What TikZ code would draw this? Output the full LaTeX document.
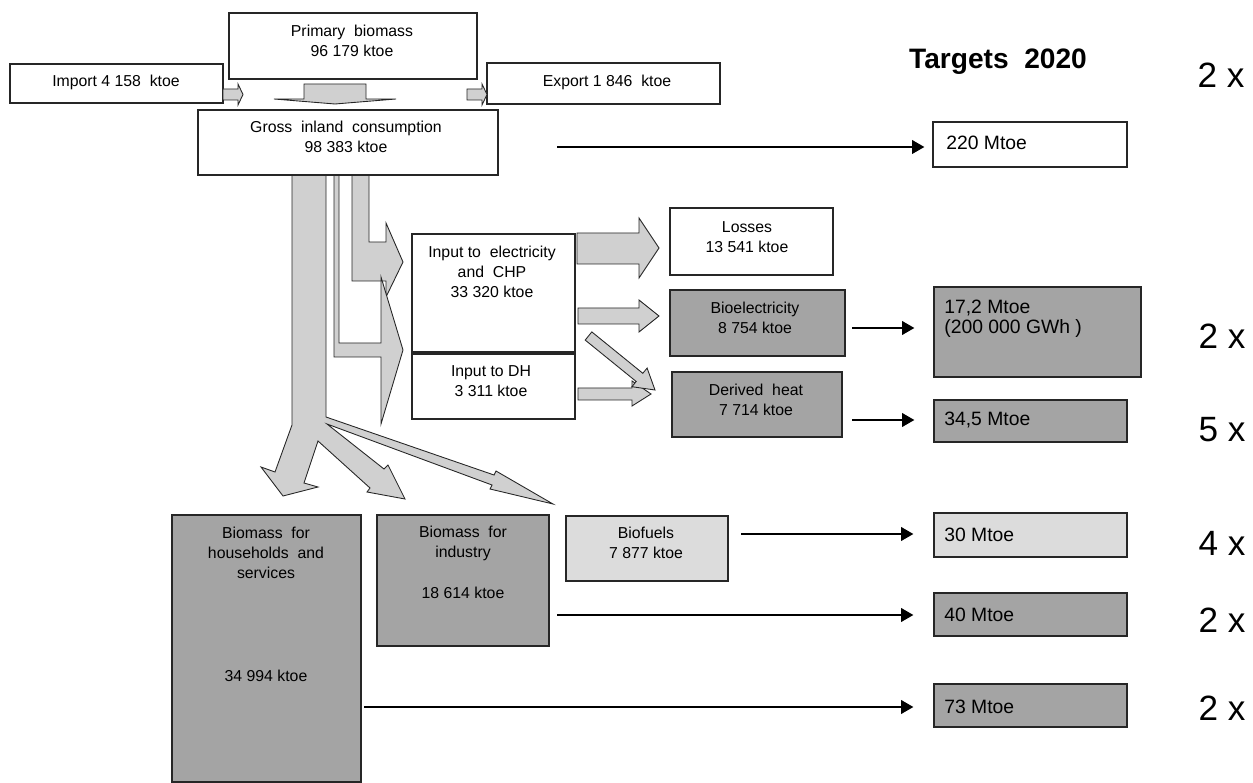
\documentclass[tikz,border=0pt]{standalone}
\usepackage{fontspec}
\setmainfont{Liberation Sans}
\usetikzlibrary{arrows.meta,fit}

\definecolor{flowgray}{HTML}{D0D0D0}
\definecolor{boxgray}{HTML}{A4A4A4}
\definecolor{fuelgray}{HTML}{DCDCDC}

\begin{document}
\begin{tikzpicture}[x=0.02cm,y=-0.02cm,
  box/.style={draw=black!85, line width=0.6pt, fill=white, inner sep=0pt},
  darkbox/.style={box, fill=boxgray},
  lightbox/.style={box, fill=fuelgray},
  flow/.style={draw=black!85, line width=0.5pt, fill=flowgray, line join=miter},
  txt/.style={font=\fontsize{9}{11.4}\selectfont, align=center, inner sep=0pt},
  goaltxt/.style={font=\fontsize{11}{11.4}\selectfont, align=left, anchor=west, inner sep=0pt},
  times/.style={font=\fontsize{20}{22}\selectfont, inner sep=0pt},
  goal/.style={line width=1.6pt, -{Triangle[length=7pt,width=7.5pt]}}]

  \useasboundingbox (0,0) rectangle (1253,783);

  % Flows out of gross inland consumption
  \draw[flow] (292,175) -- (326,175) -- (326,417) -- (494,475) -- (496,471) -- (553,504)
    -- (490,489) -- (492,485) -- (327,424) -- (384,469) -- (388,465) -- (405,499)
    -- (367,492) -- (370,488) -- (318,441) -- (304,483) -- (318,487) -- (283,496)
    -- (261,467) -- (275,472) -- (292,425) -- cycle;
  \draw[flow] (352,175) -- (369,175) -- (369,242) -- (386,242) -- (386,223) -- (403,262)
    -- (386,297) -- (386,281) -- (352,281) -- cycle;
  \draw[flow] (334,175) -- (339,175) -- (339,343) -- (381,343) -- (381,277) -- (403,350)
    -- (381,424) -- (381,357) -- (334,357) -- cycle;

  % Top row
  \node (imp) [box, fit={(10,64) (223,103)}] {};
  \node (prim) [box, fit={(229,13) (477,79)}] {};
  \node (exp) [box, fit={(487,63) (720,104)}] {};
  \node (gross) [box, fit={(198,110) (498,175)}] {};
  \node (imp-t) [txt] at (116,82) {Import 4 158 \ ktoe};
  \node (prim-t) [txt] at (352,41) {Primary \ biomass\\96 179 ktoe};
  \node (exp-t) [txt] at (607,82) {Export 1 846 \ ktoe};
  \node (gross-t) [txt] at (346,137) {Gross \ inland \ consumption\\98 383 ktoe};

  \draw[flow] (223,89) -- (238,89) -- (238,84) -- (243,94.5) -- (238,105) -- (238,100) -- (223,100) -- cycle;
  \draw[flow] (467,89) -- (482,89) -- (482,84) -- (487,94.5) -- (482,105) -- (482,100) -- (467,100) -- cycle;
  \draw[flow] (304,84) -- (366,84) -- (366,99) -- (396,99) -- (335,104) -- (274,99) -- (304,99) -- cycle;

  % Conversion
  \node (inel) [box, fit={(412,234) (575,352)}] {};
  \node (indh) [box, fit={(412,354) (575,419)}] {};
  \node (inel-t) [txt] at (492,271.5) {Input to \ electricity\\and \ CHP\\33 320 ktoe};
  \node (indh-t) [txt] at (491,381) {Input to DH\\3 311 ktoe};

  \node (loss) [box, fit={(670,208) (833,275)}] {};
  \node (bioel) [darkbox, fit={(670,290) (845,356)}] {};
  \node (heat) [darkbox, fit={(672,372) (842,437)}] {};
  \node (loss-t) [txt] at (747,237) {Losses\\13 541 ktoe};
  \node (bioel-t) [txt] at (755,318) {Bioelectricity\\8 754 ktoe};
  \node (heat-t) [txt] at (756,399.5) {Derived \ heat\\7 714 ktoe};

  \draw[flow] (577,233) -- (639,233) -- (639,218) -- (659,248) -- (639,278) -- (639,264) -- (577,264) -- cycle;
  \draw[flow] (578,308) -- (639,308) -- (639,300) -- (659,316) -- (639,332) -- (639,324) -- (578,324) -- cycle;
  \draw[flow] (578,388) -- (632,388) -- (632,381) -- (651,394) -- (632,406) -- (632,400) -- (578,400) -- cycle;
  \draw[flow] (591.8,331.9) -- (642.8,373.3) -- (647.1,368.1) -- (655,390) -- (631.9,386.7)
    -- (636.2,381.5) -- (585.2,340.1) -- cycle;

  % Final use
  \node (hh) [darkbox, fit={(172,515) (361,782)}] {};
  \node (ind) [darkbox, fit={(377,515) (549,646)}] {};
  \node (fuel) [lightbox, fit={(566,516) (728,581)}] {};
  \node (hh-t) [txt] at (266,553) {Biomass \ for\\households \ and\\services};
  \node (hh-v) [txt] at (266,676) {34 994 ktoe};
  \node (ind-t) [txt] at (463,543) {Biomass \ for\\industry};
  \node (ind-v) [txt] at (463,593) {18 614 ktoe};
  \node (fuel-t) [txt] at (646,543) {Biofuels\\7 877 ktoe};

  % Targets
  \node (title) [font=\bfseries\fontsize{16}{18}\selectfont, inner sep=0pt] at (998,62) {Targets \ 2020};
  \node (t220) [box, fit={(933,122) (1127,167)}] {};
  \node (t172) [darkbox, fit={(934,287) (1141,377)}] {};
  \node (t345) [darkbox, fit={(934,400) (1127,442)}] {};
  \node (t30) [lightbox, fit={(934,513) (1127,557)}] {};
  \node (t40) [darkbox, fit={(934,593) (1127,636)}] {};
  \node (t73) [darkbox, fit={(934,684) (1127,727)}] {};
  \node (t220-t) [goaltxt] at (946,143) {220 Mtoe};
  \node (t172-t) [goaltxt] at (944,319) {17,2 Mtoe\\(200 000 GWh )};
  \node (t345-t) [goaltxt] at (944,420) {34,5 Mtoe};
  \node (t30-t) [goaltxt] at (944,535) {30 Mtoe};
  \node (t40-t) [goaltxt] at (944,615) {40 Mtoe};
  \node (t73-t) [goaltxt] at (944,707) {73 Mtoe};

  \coordinate (gross-o) at (557,147);
  \coordinate (bioel-o) at (852,328);
  \coordinate (heat-o) at (852,420);
  \coordinate (fuel-o) at (741,534);
  \coordinate (ind-o) at (557,615);
  \coordinate (hh-o) at (364,707);
  \draw[goal] (gross-o) -- ([xshift=-1.6mm]t220.west |- gross-o);
  \draw[goal] (bioel-o) -- ([xshift=-3.8mm]t172.west |- bioel-o);
  \draw[goal] (heat-o) -- ([xshift=-3.8mm]t345.west |- heat-o);
  \draw[goal] (fuel-o) -- ([xshift=-4mm]t30.west |- fuel-o);
  \draw[goal] (ind-o) -- ([xshift=-4mm]t40.west |- ind-o);
  \draw[goal] (hh-o) -- ([xshift=-4mm]t73.west |- hh-o);

  % Growth factors
  \node (f220) [times] at (1221,75) {2 x};
  \node (f172) [times] at (1222,336) {2 x};
  \node (f345) [times] at (1222,430) {5 x};
  \node (f30) [times] at (1222,543) {4 x};
  \node (f40) [times] at (1222,620) {2 x};
  \node (f73) [times] at (1222,708) {2 x};
\end{tikzpicture}
\end{document}
